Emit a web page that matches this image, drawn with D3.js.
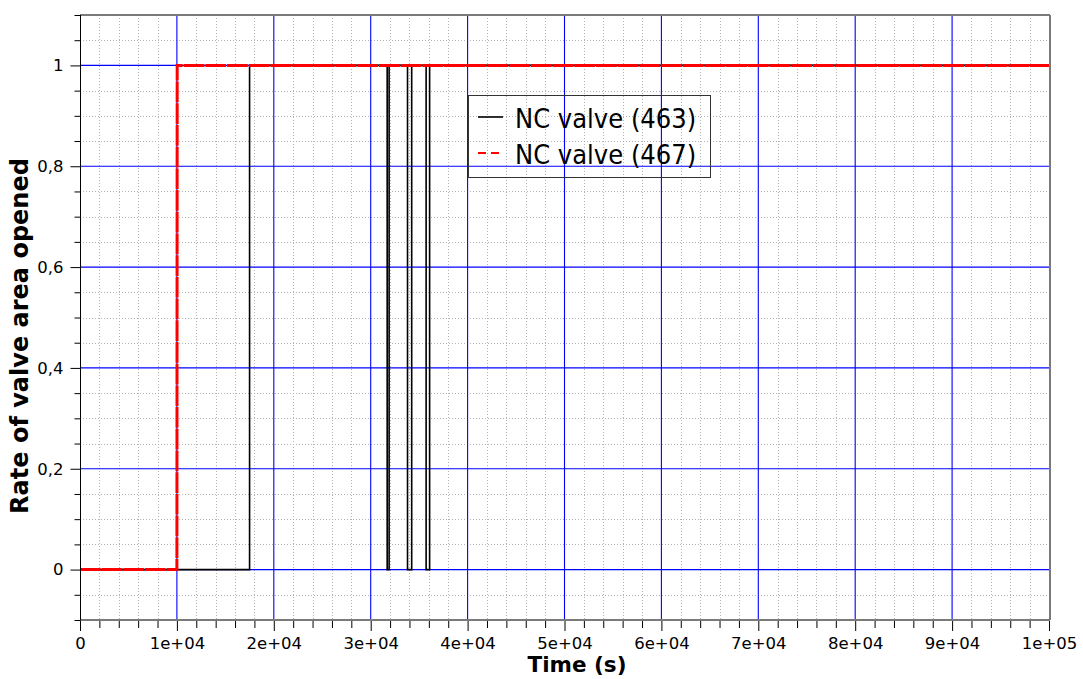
<!DOCTYPE html>
<html>
<head>
<meta charset="utf-8">
<script src="https://cdn.jsdelivr.net/npm/d3@7"></script>
<style>
  body { margin: 0; background: #fff; }
  svg { display: block; }
</style>
</head>
<body>
<svg id="chart" width="1083" height="679"></svg>
<script>
// ---------- data ----------
var seriesNames = ["NC valve (463)", "NC valve (467)"];

// NC valve (463): black solid, opens at ~1.75e4, three short closures ~3.2e4-3.6e4
var valve463Time = [0, 17500, 17500, 31700, 31700, 31900, 31900, 33800, 33800, 34230, 34230, 35720, 35720, 36080, 36080, 100000];
var valve463Rate = [0, 0, 1, 1, 0, 0, 1, 1, 0, 0, 1, 1, 0, 0, 1, 1];

// NC valve (467): red dashed, opens at 1e4
var valve467Time = [0, 10000, 10030, 100000];
var valve467Rate = [0, 0, 1, 1];

var xMajorTicks = [0, 10000, 20000, 30000, 40000, 50000, 60000, 70000, 80000, 90000, 100000];
var xTickLabels = ["0", "1e+04", "2e+04", "3e+04", "4e+04", "5e+04", "6e+04", "7e+04", "8e+04", "9e+04", "1e+05"];
var yMajorTicks = [0, 0.2, 0.4, 0.6, 0.8, 1];
var yTickLabels = ["0", "0,2", "0,4", "0,6", "0,8", "1"];

// ---------- layout ----------
var plot = { left: 80, right: 1049, top: 15, bottom: 620 };

var svg = d3.select("#chart");

var xScale = d3.scaleLinear().domain([0, 100000]).range([plot.left, plot.right]);
var yScale = d3.scaleLinear().domain([-0.1, 1.1]).range([plot.bottom, plot.top]);

var xMinor = d3.range(0, 100001, 2000);
var yMinor = d3.range(-10, 111, 5).map(d => d / 100);

function isMajorX(v) { return xMajorTicks.some(t => Math.abs(t - v) < 1e-6); }
function isMajorY(v) { return yMajorTicks.some(t => Math.abs(t - v) < 1e-6); }

// minor dotted grid
var grid = svg.append("g").attr("shape-rendering", "crispEdges");
grid.selectAll(".xminor")
    .data(xMinor.filter(d => !isMajorX(d) && d > 0 && d < 100000))
    .enter().append("line")
    .attr("x1", d => Math.round(xScale(d)) + 0.5)
    .attr("x2", d => Math.round(xScale(d)) + 0.5)
    .attr("y1", plot.top).attr("y2", plot.bottom)
    .style("stroke", "#b4b4b4")
    .style("stroke-dasharray", "1,2");
grid.selectAll(".yminor")
    .data(yMinor.filter(d => !isMajorY(d) && d > -0.1 && d < 1.1))
    .enter().append("line")
    .attr("y1", d => Math.round(yScale(d)) + 0.5)
    .attr("y2", d => Math.round(yScale(d)) + 0.5)
    .attr("x1", plot.left).attr("x2", plot.right)
    .style("stroke", "#b4b4b4")
    .style("stroke-dasharray", "1,2");

// major blue grid
var majorGrid = svg.append("g");
majorGrid.selectAll(".xmajor")
    .data(xMajorTicks.filter(d => d > 0 && d < 100000))
    .enter().append("line")
    .attr("x1", d => xScale(d))
    .attr("x2", d => xScale(d))
    .attr("y1", plot.top).attr("y2", plot.bottom)
    .style("stroke", "#0000ff")
    .style("stroke-width", 1.1);
majorGrid.selectAll(".ymajor")
    .data(yMajorTicks)
    .enter().append("line")
    .attr("y1", d => yScale(d))
    .attr("y2", d => yScale(d))
    .attr("x1", plot.left).attr("x2", plot.right)
    .style("stroke", "#0000ff")
    .style("stroke-width", 1.1);

// frame: top, right and bottom in gray
var frame = svg.append("g").attr("shape-rendering", "crispEdges");
frame.append("line")
    .attr("x1", plot.left).attr("x2", plot.right + 1)
    .attr("y1", plot.top).attr("y2", plot.top)
    .style("stroke", "#7a7a7a").style("stroke-width", 2);
frame.append("line")
    .attr("x1", plot.right + 0.5).attr("x2", plot.right + 0.5)
    .attr("y1", plot.top).attr("y2", plot.bottom)
    .style("stroke", "#7a7a7a").style("stroke-width", 2);
frame.append("line")
    .attr("x1", plot.left).attr("x2", plot.right + 1)
    .attr("y1", plot.bottom).attr("y2", plot.bottom)
    .style("stroke", "#7a7a7a").style("stroke-width", 2);

// ---------- series ----------
var line = d3.line()
    .x(d => xScale(d[0]))
    .y(d => yScale(d[1]));

var data463 = valve463Time.map((t, i) => [t, valve463Rate[i]]);
var data467 = valve467Time.map((t, i) => [t, valve467Rate[i]]);

svg.append("path")
    .datum(data463)
    .attr("d", line)
    .style("fill", "none")
    .style("stroke", "#000")
    .style("stroke-width", 1.6);

svg.append("path")
    .datum(data467)
    .attr("d", line)
    .style("fill", "none")
    .style("stroke", "#ff0000")
    .style("stroke-width", 3)
    .style("stroke-dasharray", "20.7,1");

// ---------- axes ----------
var yAxisMinor = d3.axisLeft(yScale)
    .tickValues(yMinor.filter(d => !isMajorY(d)))
    .tickSize(6).tickFormat("");
svg.append("g")
    .attr("transform", "translate(" + (plot.left + 0.5) + ",0)")
    .call(yAxisMinor)
    .call(g => g.select(".domain").remove())
    .selectAll("line").style("stroke", "#000");

var yAxis = d3.axisLeft(yScale)
    .tickValues(yMajorTicks)
    .tickSize(10).tickPadding(7)
    .tickFormat((d, i) => yTickLabels[i]);
svg.append("g")
    .attr("transform", "translate(" + (plot.left + 0.5) + ",0)")
    .call(yAxis)
    .call(g => g.select(".domain").attr("d", "M0," + plot.top + "V" + plot.bottom).style("stroke", "#000"))
    .call(g => g.selectAll("line").style("stroke", "#000"))
    .call(g => g.selectAll("text")
        .style("font-family", "DejaVu Sans, Verdana, sans-serif")
        .style("font-size", "16.5px")
        .style("fill", "#000"));

var xAxisMinor = d3.axisBottom(xScale)
    .tickValues(xMinor.filter(d => !isMajorX(d)))
    .tickSize(7).tickFormat("");
svg.append("g")
    .attr("transform", "translate(0," + (plot.bottom + 1) + ")")
    .call(xAxisMinor)
    .call(g => g.select(".domain").remove())
    .selectAll("line").style("stroke", "#000");

var xAxis = d3.axisBottom(xScale)
    .tickValues(xMajorTicks)
    .tickSize(10).tickPadding(6)
    .tickFormat((d, i) => xTickLabels[i]);
svg.append("g")
    .attr("transform", "translate(0," + (plot.bottom + 1) + ")")
    .call(xAxis)
    .call(g => g.select(".domain").remove())
    .call(g => g.selectAll("line").style("stroke", "#000"))
    .call(g => g.selectAll("text")
        .style("font-family", "DejaVu Sans, Verdana, sans-serif")
        .style("font-size", "16.5px")
        .style("fill", "#000"));

// axis titles
svg.append("text")
    .attr("x", 577)
    .attr("y", 672)
    .attr("text-anchor", "middle")
    .style("font-family", "DejaVu Sans, Verdana, sans-serif")
    .style("font-weight", "bold")
    .style("font-size", "21.5px")
    .text("Time (s)");

svg.append("text")
    .attr("transform", "translate(28,336) rotate(-90)")
    .attr("text-anchor", "middle")
    .style("font-family", "DejaVu Sans, Verdana, sans-serif")
    .style("font-weight", "bold")
    .style("font-size", "24px")
    .text("Rate of valve area opened");

// ---------- legend ----------
var legend = svg.append("g");
legend.append("rect")
    .attr("x", 468.5).attr("y", 95.5)
    .attr("width", 242).attr("height", 82)
    .style("fill", "none")
    .style("stroke", "#333")
    .style("stroke-width", 1);

var legendStyles = [
    { color: "#000", dash: null, width: 1.6 },
    { color: "#ff0000", dash: "8,5", width: 2 }
];
var rows = legend.selectAll(".row")
    .data(seriesNames)
    .enter().append("g")
    .attr("transform", (d, i) => "translate(0," + (117 + i * 36) + ")");
rows.append("line")
    .attr("x1", 478).attr("x2", 503)
    .attr("y1", 0).attr("y2", 0)
    .style("stroke", (d, i) => legendStyles[i].color)
    .style("stroke-width", (d, i) => legendStyles[i].width)
    .style("stroke-dasharray", (d, i) => legendStyles[i].dash);
rows.append("text")
    .attr("x", 515).attr("y", 11)
    .style("font-family", "DejaVu Sans Condensed, DejaVu Sans, sans-serif")
    .style("font-stretch", "condensed")
    .style("font-size", "27px")
    .style("fill", "#000")
    .text(d => d);
</script>
</body>
</html>
